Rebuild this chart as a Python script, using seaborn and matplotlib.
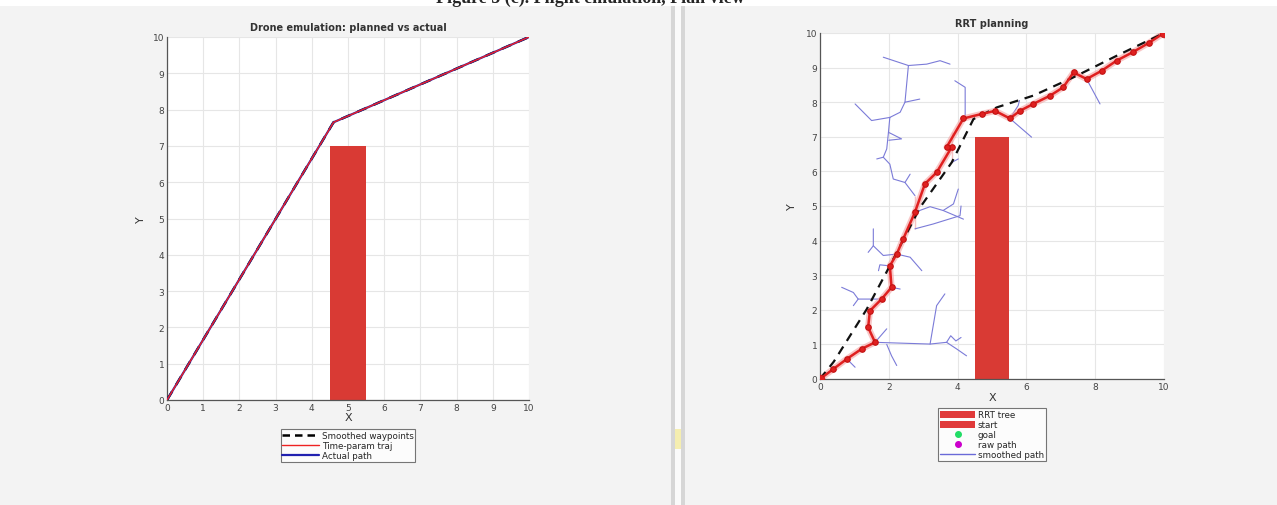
import numpy as np
import pandas as pd
import seaborn as sns
import matplotlib.pyplot as plt
from matplotlib.patches import Patch, Rectangle
from matplotlib.lines import Line2D

# left panel: planned vs actual
plan_x = [0, 4.6, 10]
plan_y = [0, 7.65, 10]

# obstacle (same in both panels)
obs_x0, obs_w, obs_h = 4.5, 1.0, 7.0

# right panel: raw RRT path
raw_x = [0, 0.39, 0.78, 1.21, 1.6, 1.4, 1.45, 1.79, 2.08, 2.03, 2.23, 2.42, 2.76, 2.76, 2.76,
         3.05, 3.39, 3.83, 3.68, 3.83, 4.17, 4.7, 5.09, 5.52, 5.81, 6.2, 6.69, 7.07, 7.37,
         7.75, 8.19, 8.62, 9.1, 9.55, 10]
raw_y = [0, 0.29, 0.58, 0.87, 1.06, 1.49, 1.97, 2.31, 2.65, 3.27, 3.61, 4.05, 4.34, 4.82, 5.3,
         5.64, 5.97, 6.26, 6.7, 7.15, 7.53, 7.66, 7.75, 7.53, 7.75, 7.95, 8.19, 8.43, 8.86,
         8.67, 8.91, 9.2, 9.45, 9.71, 10]

# smoothed path
smooth_x = [0, 0.4, 1.36, 2.03, 2.91, 3.83, 4.46, 5.14, 6.2, 7.37, 8.62, 10]
smooth_y = [0, 0.5, 2.02, 3.27, 4.96, 6.26, 7.51, 7.85, 8.19, 8.72, 9.34, 10]

# RRT tree branches
tree_branches = [
    [(1.84, 9.3), (2.57, 9.06), (3.1, 9.1), (3.49, 9.2), (3.78, 9.1)],
    [(2.57, 9.06), (2.47, 8.0), (2.9, 8.09)],
    [(2.47, 8.0), (2.33, 7.71), (2.03, 7.56)],
    [(1.02, 7.95), (1.5, 7.47), (2.03, 7.56)],
    [(2.03, 7.56), (1.99, 7.13), (1.94, 6.65), (1.84, 6.41), (2.03, 6.21), (2.13, 5.78),
     (2.47, 5.68), (2.76, 5.3)],
    [(1.99, 7.13), (2.37, 6.94), (2.0, 6.9)],
    [(1.84, 6.41), (1.65, 6.36)],
    [(2.47, 5.68), (2.62, 5.92)],
    [(3.92, 8.62), (4.22, 8.43), (4.22, 7.61)],
    [(2.76, 4.82), (3.2, 4.98), (3.58, 4.87), (4.17, 4.62)],
    [(3.58, 4.87), (3.88, 5.06), (4.02, 5.49)],
    [(2.76, 4.34), (3.29, 4.48), (4.07, 4.72), (4.1, 5.0)],
    [(3.83, 6.26), (4.02, 6.36)],
    [(2.23, 3.61), (1.84, 3.57), (1.55, 3.85), (1.55, 4.34)],
    [(1.55, 3.85), (1.4, 3.66)],
    [(2.23, 3.61), (2.62, 3.52), (2.96, 3.13)],
    [(2.03, 3.27), (1.74, 3.3), (1.7, 3.13)],
    [(2.08, 2.65), (2.33, 2.6)],
    [(1.79, 2.31), (1.45, 2.31), (1.11, 2.31), (0.97, 2.5), (0.63, 2.65)],
    [(1.11, 2.31), (0.97, 2.12)],
    [(1.6, 1.06), (3.2, 1.01), (3.68, 1.06), (3.97, 0.87), (4.26, 0.67)],
    [(3.2, 1.01), (3.39, 2.12), (3.63, 2.46)],
    [(3.68, 1.06), (3.8, 1.25), (3.95, 1.1), (4.1, 1.2)],
    [(1.6, 1.06), (1.94, 1.45)],
    [(1.94, 1.0), (2.08, 0.67), (2.23, 0.39)],
    [(0.78, 0.58), (1.02, 0.34)],
    [(5.09, 7.75), (5.52, 7.53), (6.15, 6.99)],
    [(5.52, 7.53), (5.76, 7.9), (5.8, 8.05)],
    [(7.75, 8.67), (8.14, 7.95)],
]

tree_df = pd.DataFrame([(i, p[0], p[1]) for i, b in enumerate(tree_branches) for p in b],
                       columns=["branch", "x", "y"])

sns.set_style("whitegrid")
plt.rcParams['font.family'] = ['DejaVu Sans']

fig = plt.figure(figsize=(12.77, 5.06), dpi=100)
fig.patch.set_facecolor("#f3f3f3")

# screenshot decorations
fig.patches.append(Rectangle((0, 1 - 7 / 506), 1, 7 / 506, transform=fig.transFigure,
                             facecolor="white", edgecolor="none", zorder=0))
fig.text(590 / 1277, 1 - 3 / 506, "Figure 5 (c). Flight emulation, Plan view", ha="center",
         va="baseline", fontsize=13, family="Liberation Serif", fontweight="bold")
fig.patches.append(Rectangle((671 / 1277, 0), 14 / 1277, 1 - 7 / 506, transform=fig.transFigure,
                             facecolor="#d6d6d6", edgecolor="none"))
fig.patches.append(Rectangle((675 / 1277, 0), 6 / 1277, 1 - 7 / 506, transform=fig.transFigure,
                             facecolor="#fafafa", edgecolor="none"))
fig.patches.append(Rectangle((675 / 1277, 56 / 506), 6 / 1277, 20 / 506, transform=fig.transFigure,
                             facecolor="#f5eeb0", edgecolor="none"))

grid_c = "#e6e6e6"
tick_c = "#444444"

def style_axes(ax, xstep):
    ax.set_xlim(0, 10)
    ax.set_ylim(0, 10)
    ax.set_xticks(np.arange(0, 10.1, xstep))
    ax.set_yticks(np.arange(0, 11, 1))
    ax.grid(True, color=grid_c, lw=0.8)
    for s in ["top", "right"]:
        ax.spines[s].set_visible(False)
    for s in ["left", "bottom"]:
        ax.spines[s].set_color("#555555")
        ax.spines[s].set_linewidth(0.9)
    ax.tick_params(axis="both", labelsize=6.5, colors=tick_c, length=2, pad=2, direction="in")
    ax.set_facecolor("white")

# ---- left panel ----
ax1 = fig.add_axes([167 / 1277, 105 / 506, 362 / 1277, 363 / 506])
style_axes(ax1, 1)
ax1.add_patch(Rectangle((obs_x0, 0), obs_w, obs_h, facecolor="#d93a34", edgecolor="none", zorder=2))
sns.lineplot(x=plan_x, y=plan_y, ax=ax1, sort=False, color="black", lw=1.8,
             linestyle=(0, (4, 3)), label="Smoothed waypoints", zorder=3)
sns.lineplot(x=plan_x, y=plan_y, ax=ax1, sort=False, color="#2020b0", lw=1.6,
             label="Actual path", zorder=3)
sns.lineplot(x=plan_x, y=plan_y, ax=ax1, sort=False, color="#ee2222", lw=1.0,
             label="Time-param traj", zorder=4)
ax1.set_title("Drone emulation: planned vs actual", fontsize=7, fontweight="bold", pad=5,
              color="#333333")
ax1.set_xlabel("X", fontsize=8, labelpad=0, color="#333333")
ax1.set_ylabel("Y", fontsize=8, labelpad=5, color="#333333")
h1 = [Line2D([], [], color="black", lw=1.8, linestyle=(0, (3, 2))),
      Line2D([], [], color="#ee2222", lw=1.0),
      Line2D([], [], color="#2020b0", lw=1.6)]
leg1 = ax1.legend(h1, ["Smoothed waypoints", "Time-param traj", "Actual path"],
                  loc="upper center", bbox_to_anchor=(0.5, -0.08), fontsize=6.3,
                  frameon=True, fancybox=False, handlelength=4.2, borderpad=0.2,
                  labelspacing=0.12, handletextpad=0.3, borderaxespad=0)
leg1.get_frame().set_edgecolor("#555555")
leg1.get_frame().set_linewidth(0.8)

# ---- right panel ----
ax2 = fig.add_axes([820 / 1277, 126 / 506, 344 / 1277, 346 / 506])
style_axes(ax2, 2)
ax2.add_patch(Rectangle((obs_x0, 0), obs_w, obs_h, facecolor="#d93a34", edgecolor="none", zorder=2))
sns.lineplot(data=tree_df, x="x", y="y", units="branch", estimator=None, sort=False, ax=ax2,
             color="#7b7bd8", lw=0.8, zorder=3)
sns.lineplot(x=raw_x, y=raw_y, ax=ax2, sort=False, color="#f4a0a0", lw=4.5, alpha=0.6, zorder=4)
sns.lineplot(x=smooth_x, y=smooth_y, ax=ax2, sort=False, color="#111111", lw=1.6,
             linestyle=(0, (4, 3)), zorder=5)
sns.lineplot(x=raw_x, y=raw_y, ax=ax2, sort=False, color="#e02020", lw=1.8, marker="o",
             markersize=4, markeredgecolor="#c01010", zorder=6)
sns.scatterplot(x=[raw_x[0], raw_x[-1]], y=[raw_y[0], raw_y[-1]], ax=ax2, color="#e02020",
                s=40, edgecolor="#c01010", zorder=7)
ax2.set_title("RRT planning", fontsize=7, fontweight="bold", pad=5, color="#333333")
ax2.set_xlabel("X", fontsize=8, labelpad=1, color="#333333")
ax2.set_ylabel("Y", fontsize=8, labelpad=6, color="#333333")
h2 = [Patch(facecolor="#e03a3a", edgecolor="none"),
      Patch(facecolor="#e03a3a", edgecolor="none"),
      Line2D([], [], color="none", marker="o", markerfacecolor="#22dd66",
             markeredgecolor="#22dd66", markersize=4),
      Line2D([], [], color="none", marker="o", markerfacecolor="#cc00cc",
             markeredgecolor="#cc00cc", markersize=4),
      Line2D([], [], color="#6a6ad8", lw=1.0)]
leg2 = ax2.legend(h2, ["RRT tree", "start", "goal", "raw path", "smoothed path"],
                  loc="upper center", bbox_to_anchor=(0.5, -0.085), fontsize=6.3,
                  frameon=True, fancybox=False, handlelength=4.0, handleheight=0.9,
                  borderpad=0.2, labelspacing=0.12, handletextpad=0.3, borderaxespad=0)
leg2.get_frame().set_edgecolor("#555555")
leg2.get_frame().set_linewidth(0.8)

fig.savefig("out.png", dpi=100, facecolor=fig.get_facecolor())
